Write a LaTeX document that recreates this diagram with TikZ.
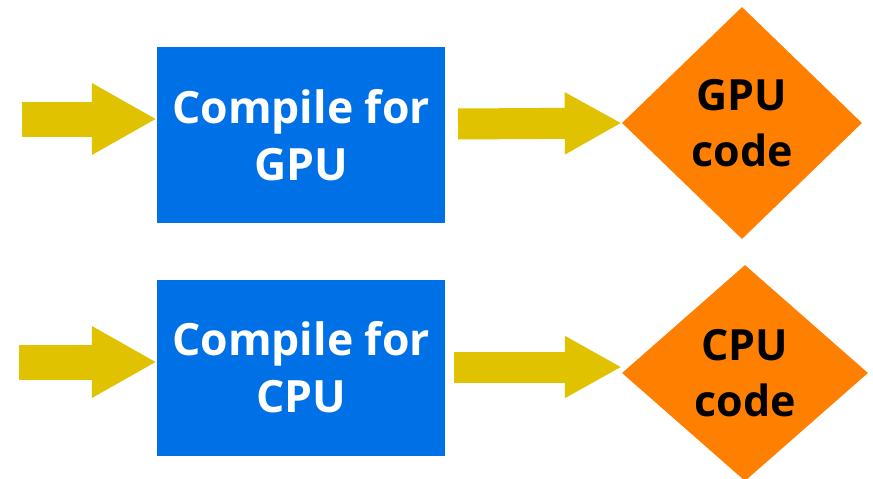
\documentclass[tikz,border=0pt]{standalone}
\usepackage{fontspec}
\setmainfont{Open Sans}
\usetikzlibrary{shapes.geometric,arrows.meta}
\definecolor{boxblue}{RGB}{0,112,230}
\definecolor{dorange}{RGB}{255,128,0}
\definecolor{ayellow}{RGB}{224,194,0}
\begin{document}
\begin{tikzpicture}[x=1pt,y=-1pt,
  compbox/.style={draw=none,fill=boxblue,text=white,minimum width=288pt,minimum height=176pt,inner sep=0pt,align=center,font=\fontsize{44.5}{57}\selectfont\bfseries},
  codediam/.style={diamond,draw=none,fill=dorange,text=black,inner sep=0pt,align=center,font=\fontsize{43}{56}\selectfont\bfseries},
  blockarrow/.style={draw=ayellow,line width=35pt,line cap=butt,-{Triangle[length=65pt,width=67pt]}},
]
\useasboundingbox (0,0) rectangle (873,479);
\node[compbox] (g1) at (301,135) {Compile for\\GPU};
\node[compbox] (c1) at (301,367.5) {Compile for\\CPU};
\node[codediam,minimum width=240pt,minimum height=232pt] (gd) at (742,123) {GPU\\code};
\node[codediam,minimum width=246pt,minimum height=216pt] (cd) at (745,373) {CPU\\code};
\coordinate (gin) at (22,119);
\coordinate (cin) at (19,362);
\coordinate (gout) at (458,124);
\coordinate (cout) at (454,367);
\draw[blockarrow] (gin) -- (gin -| g1.west);
\draw[blockarrow] (cin) -- (cin -| c1.west);
\draw[blockarrow,line width=31pt,-{Triangle[length=57pt,width=58pt]}] (gout) -- (gd.west);
\draw[blockarrow,line width=31pt,-{Triangle[length=57pt,width=58pt]}] (cout) -- (cout -| cd.west);
\end{tikzpicture}
\end{document}
